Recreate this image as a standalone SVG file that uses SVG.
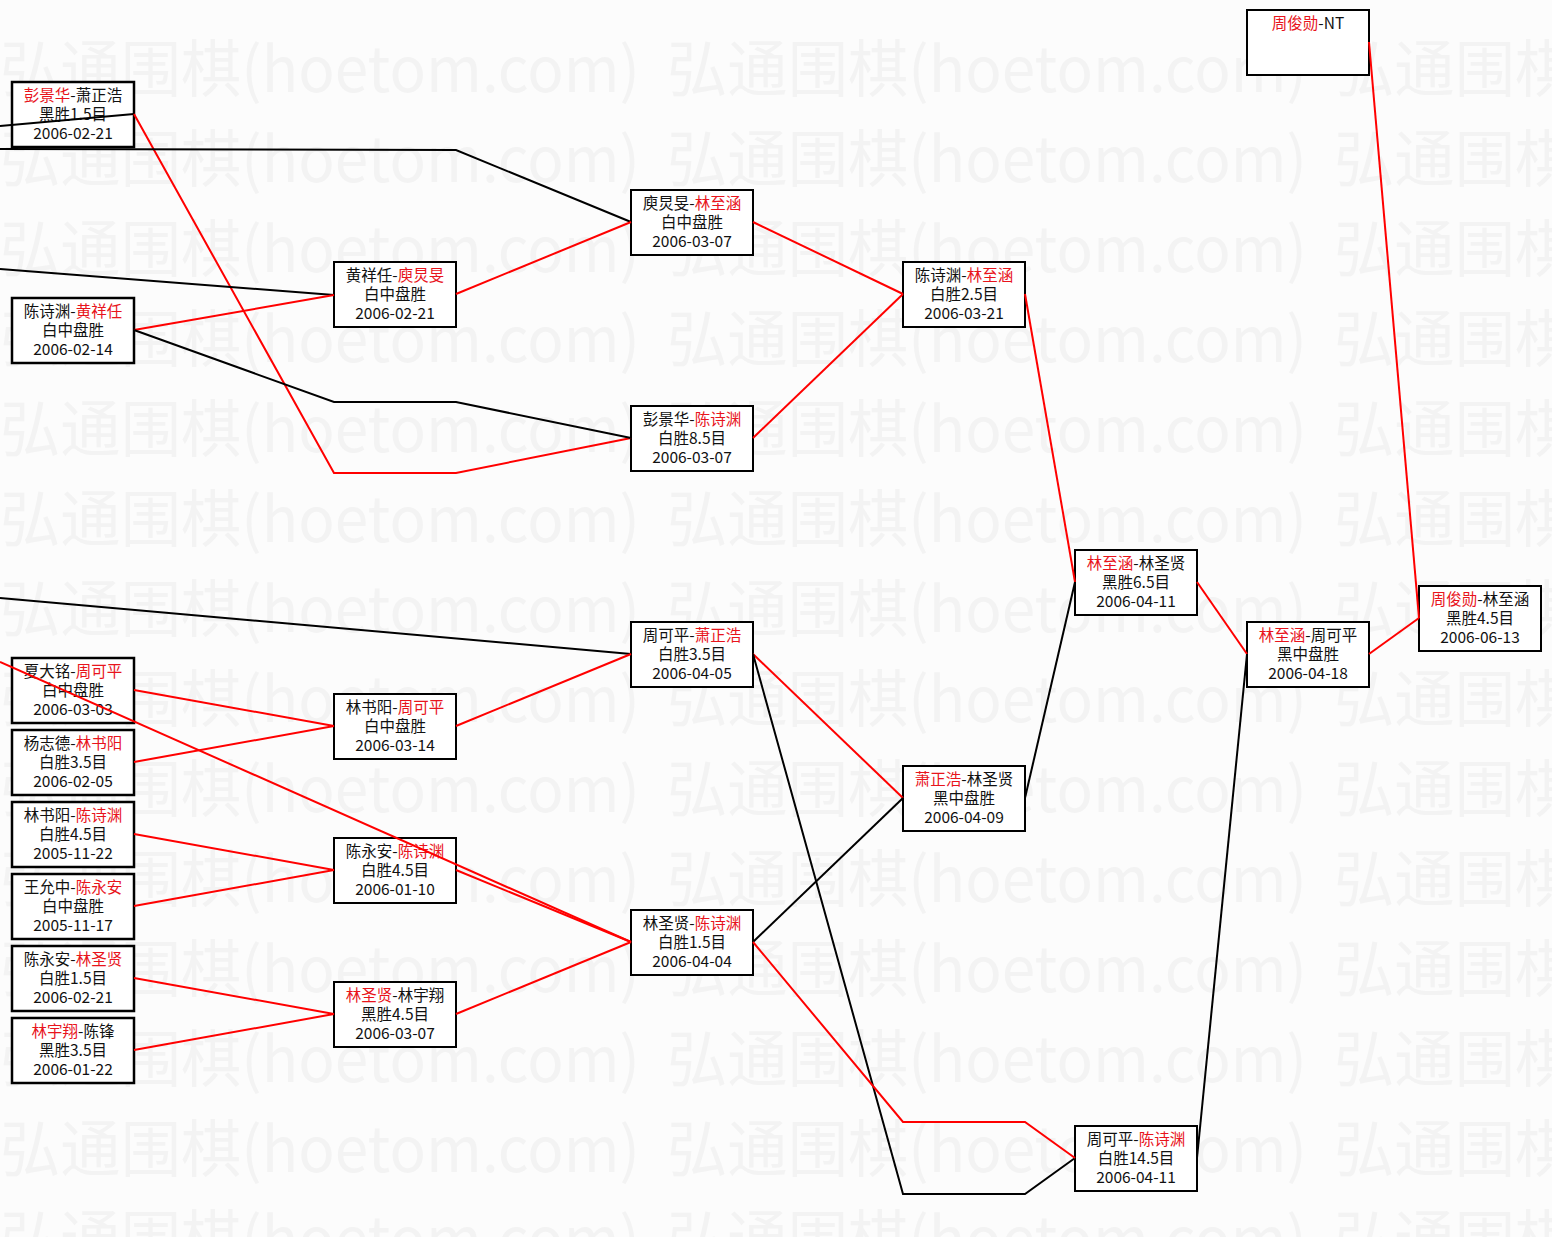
<svg xmlns="http://www.w3.org/2000/svg" xmlns:xlink="http://www.w3.org/1999/xlink" width="1552" height="1237" viewBox="0 0 1552 1237">
<style>
.wm{font-family:"Noto Sans CJK SC","Noto Sans",sans-serif;font-size:62px;fill:#f3f3f3}
.box{fill:#ffffff;stroke:#000;stroke-width:2}
.box1{fill:#ffffff;stroke:#000;stroke-width:2.5}
.t{font-family:"Noto Sans CJK SC","Noto Sans",sans-serif;font-size:15.5px;fill:#111;text-anchor:middle}
.w{fill:#e8141c}
.r{fill:none;stroke:#f00;stroke-width:2}
.k{fill:none;stroke:#000;stroke-width:2}
</style>
<defs>
<text id="wm" class="wm" textLength="640" lengthAdjust="spacingAndGlyphs">弘通围棋(hoetom.com)</text>
</defs>
<rect x="0" y="0" width="1552" height="1237" fill="#fcfcfc"/>
<g id="watermark">
<use xlink:href="#wm" x="0" y="92"/><use xlink:href="#wm" x="667" y="92"/><use xlink:href="#wm" x="1334" y="92"/>
<use xlink:href="#wm" x="0" y="182"/><use xlink:href="#wm" x="667" y="182"/><use xlink:href="#wm" x="1334" y="182"/>
<use xlink:href="#wm" x="0" y="272"/><use xlink:href="#wm" x="667" y="272"/><use xlink:href="#wm" x="1334" y="272"/>
<use xlink:href="#wm" x="0" y="362"/><use xlink:href="#wm" x="667" y="362"/><use xlink:href="#wm" x="1334" y="362"/>
<use xlink:href="#wm" x="0" y="452"/><use xlink:href="#wm" x="667" y="452"/><use xlink:href="#wm" x="1334" y="452"/>
<use xlink:href="#wm" x="0" y="542"/><use xlink:href="#wm" x="667" y="542"/><use xlink:href="#wm" x="1334" y="542"/>
<use xlink:href="#wm" x="0" y="632"/><use xlink:href="#wm" x="667" y="632"/><use xlink:href="#wm" x="1334" y="632"/>
<use xlink:href="#wm" x="0" y="722"/><use xlink:href="#wm" x="667" y="722"/><use xlink:href="#wm" x="1334" y="722"/>
<use xlink:href="#wm" x="0" y="812"/><use xlink:href="#wm" x="667" y="812"/><use xlink:href="#wm" x="1334" y="812"/>
<use xlink:href="#wm" x="0" y="902"/><use xlink:href="#wm" x="667" y="902"/><use xlink:href="#wm" x="1334" y="902"/>
<use xlink:href="#wm" x="0" y="992"/><use xlink:href="#wm" x="667" y="992"/><use xlink:href="#wm" x="1334" y="992"/>
<use xlink:href="#wm" x="0" y="1082"/><use xlink:href="#wm" x="667" y="1082"/><use xlink:href="#wm" x="1334" y="1082"/>
<use xlink:href="#wm" x="0" y="1172"/><use xlink:href="#wm" x="667" y="1172"/><use xlink:href="#wm" x="1334" y="1172"/>
<use xlink:href="#wm" x="0" y="1262"/><use xlink:href="#wm" x="667" y="1262"/><use xlink:href="#wm" x="1334" y="1262"/>
</g>

<g id="nodes">
<g id="A"><rect class="box1" x="12" y="82" width="122" height="65"/><text class="t" x="73" y="101"><tspan class="w">彭景华</tspan>-萧正浩</text><text class="t" x="73" y="120">黑胜1.5目</text><text class="t" x="73" y="139">2006-02-21</text></g>
<g id="B"><rect class="box1" x="12" y="298" width="122" height="65"/><text class="t" x="73" y="317">陈诗渊-<tspan class="w">黄祥任</tspan></text><text class="t" x="73" y="336">白中盘胜</text><text class="t" x="73" y="355">2006-02-14</text></g>
<g id="C"><rect class="box1" x="12" y="658" width="122" height="65"/><text class="t" x="73" y="677">夏大铭-<tspan class="w">周可平</tspan></text><text class="t" x="73" y="696">白中盘胜</text><text class="t" x="73" y="715">2006-03-03</text></g>
<g id="D"><rect class="box1" x="12" y="730" width="122" height="65"/><text class="t" x="73" y="749">杨志德-<tspan class="w">林书阳</tspan></text><text class="t" x="73" y="768">白胜3.5目</text><text class="t" x="73" y="787">2006-02-05</text></g>
<g id="E"><rect class="box1" x="12" y="802" width="122" height="65"/><text class="t" x="73" y="821">林书阳-<tspan class="w">陈诗渊</tspan></text><text class="t" x="73" y="840">白胜4.5目</text><text class="t" x="73" y="859">2005-11-22</text></g>
<g id="F"><rect class="box1" x="12" y="874" width="122" height="65"/><text class="t" x="73" y="893">王允中-<tspan class="w">陈永安</tspan></text><text class="t" x="73" y="912">白中盘胜</text><text class="t" x="73" y="931">2005-11-17</text></g>
<g id="G"><rect class="box1" x="12" y="946" width="122" height="65"/><text class="t" x="73" y="965">陈永安-<tspan class="w">林圣贤</tspan></text><text class="t" x="73" y="984">白胜1.5目</text><text class="t" x="73" y="1003">2006-02-21</text></g>
<g id="H"><rect class="box1" x="12" y="1018" width="122" height="65"/><text class="t" x="73" y="1037"><tspan class="w">林宇翔</tspan>-陈锋</text><text class="t" x="73" y="1056">黑胜3.5目</text><text class="t" x="73" y="1075">2006-01-22</text></g>

<g id="I"><rect class="box" x="334" y="262" width="122" height="65"/><text class="t" x="395" y="281">黄祥任-<tspan class="w">庾炅旻</tspan></text><text class="t" x="395" y="300">白中盘胜</text><text class="t" x="395" y="319">2006-02-21</text></g>
<g id="J"><rect class="box" x="334" y="694" width="122" height="65"/><text class="t" x="395" y="713">林书阳-<tspan class="w">周可平</tspan></text><text class="t" x="395" y="732">白中盘胜</text><text class="t" x="395" y="751">2006-03-14</text></g>
<g id="K"><rect class="box" x="334" y="838" width="122" height="65"/><text class="t" x="395" y="857">陈永安-<tspan class="w">陈诗渊</tspan></text><text class="t" x="395" y="876">白胜4.5目</text><text class="t" x="395" y="895">2006-01-10</text></g>
<g id="L"><rect class="box" x="334" y="982" width="122" height="65"/><text class="t" x="395" y="1001"><tspan class="w">林圣贤</tspan>-林宇翔</text><text class="t" x="395" y="1020">黑胜4.5目</text><text class="t" x="395" y="1039">2006-03-07</text></g>

<g id="M"><rect class="box" x="631" y="190" width="122" height="65"/><text class="t" x="692" y="209">庾炅旻-<tspan class="w">林至涵</tspan></text><text class="t" x="692" y="228">白中盘胜</text><text class="t" x="692" y="247">2006-03-07</text></g>
<g id="N"><rect class="box" x="631" y="406" width="122" height="65"/><text class="t" x="692" y="425">彭景华-<tspan class="w">陈诗渊</tspan></text><text class="t" x="692" y="444">白胜8.5目</text><text class="t" x="692" y="463">2006-03-07</text></g>
<g id="O"><rect class="box" x="631" y="622" width="122" height="65"/><text class="t" x="692" y="641">周可平-<tspan class="w">萧正浩</tspan></text><text class="t" x="692" y="660">白胜3.5目</text><text class="t" x="692" y="679">2006-04-05</text></g>
<g id="P"><rect class="box" x="631" y="910" width="122" height="65"/><text class="t" x="692" y="929">林圣贤-<tspan class="w">陈诗渊</tspan></text><text class="t" x="692" y="948">白胜1.5目</text><text class="t" x="692" y="967">2006-04-04</text></g>

<g id="Q"><rect class="box" x="903" y="262" width="122" height="65"/><text class="t" x="964" y="281">陈诗渊-<tspan class="w">林至涵</tspan></text><text class="t" x="964" y="300">白胜2.5目</text><text class="t" x="964" y="319">2006-03-21</text></g>
<g id="R"><rect class="box" x="903" y="766" width="122" height="65"/><text class="t" x="964" y="785"><tspan class="w">萧正浩</tspan>-林圣贤</text><text class="t" x="964" y="804">黑中盘胜</text><text class="t" x="964" y="823">2006-04-09</text></g>

<g id="S"><rect class="box" x="1075" y="550" width="122" height="65"/><text class="t" x="1136" y="569"><tspan class="w">林至涵</tspan>-林圣贤</text><text class="t" x="1136" y="588">黑胜6.5目</text><text class="t" x="1136" y="607">2006-04-11</text></g>
<g id="T"><rect class="box" x="1075" y="1126" width="122" height="65"/><text class="t" x="1136" y="1145">周可平-<tspan class="w">陈诗渊</tspan></text><text class="t" x="1136" y="1164">白胜14.5目</text><text class="t" x="1136" y="1183">2006-04-11</text></g>

<g id="U"><rect class="box" x="1247" y="622" width="122" height="65"/><text class="t" x="1308" y="641"><tspan class="w">林至涵</tspan>-周可平</text><text class="t" x="1308" y="660">黑中盘胜</text><text class="t" x="1308" y="679">2006-04-18</text></g>
<g id="V"><rect class="box" x="1247" y="10" width="122" height="65"/><text class="t" x="1308" y="29"><tspan class="w">周俊勋</tspan>-NT</text></g>

<g id="W"><rect class="box" x="1419" y="586" width="122" height="65"/><text class="t" x="1480" y="605"><tspan class="w">周俊勋</tspan>-林至涵</text><text class="t" x="1480" y="624">黑胜4.5目</text><text class="t" x="1480" y="643">2006-06-13</text></g>
</g>

<g id="connectors">
<polyline class="k" points="0,126 134,114"/>
<polyline class="r" points="134,114 334,473 456,473 631,438"/>
<polyline class="k" points="0,149 456,150 631,222"/>
<polyline class="k" points="0,269 334,295"/>
<polyline class="r" points="134,330 334,295"/>
<polyline class="k" points="134,330 334,402 456,402 631,438"/>
<polyline class="r" points="456,294 631,222"/>
<polyline class="r" points="753,222 903,294"/>
<polyline class="r" points="753,438 903,294"/>
<polyline class="r" points="1025,294 1075,582"/>
<polyline class="k" points="0,598 631,654"/>
<polyline class="r" points="134,690 334,726"/>
<polyline class="r" points="0,662 631,942"/>
<polyline class="r" points="134,762 334,726"/>
<polyline class="r" points="134,834 334,870"/>
<polyline class="r" points="134,906 334,870"/>
<polyline class="r" points="134,978 334,1014"/>
<polyline class="r" points="134,1050 334,1014"/>
<polyline class="r" points="456,726 631,654"/>
<polyline class="r" points="456,870 631,942"/>
<polyline class="r" points="456,1014 631,942"/>
<polyline class="r" points="753,654 903,798"/>
<polyline class="k" points="753,654 903,1194 1025,1194 1075,1158"/>
<polyline class="k" points="753,942 903,798"/>
<polyline class="r" points="753,942 903,1122 1025,1122 1075,1158"/>
<polyline class="k" points="1025,798 1075,582"/>
<polyline class="r" points="1197,582 1247,654"/>
<polyline class="k" points="1197,1158 1247,654"/>
<polyline class="r" points="1369,654 1419,618"/>
<polyline class="r" points="1369,42 1419,618"/>
</g>
</svg>
